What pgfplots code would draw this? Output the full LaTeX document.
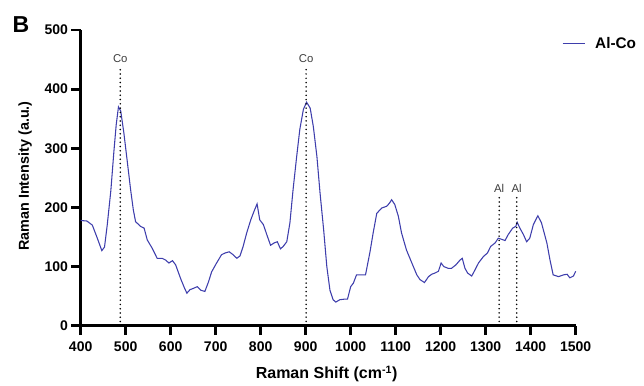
\documentclass[border=0pt]{standalone}
\usepackage{pgfplots}
\pgfplotsset{compat=1.18}
\usepackage{fontspec}
\setmainfont{Liberation Sans}
\definecolor{lc}{RGB}{62,62,172}
\definecolor{annot}{RGB}{60,60,60}
\begin{document}
\begin{tikzpicture}[x=1pt,y=1pt]
\useasboundingbox (-60.5,-44.5) rectangle (422.5,244.3);
\begin{axis}[
  at={(0,0)}, anchor=south west,
  scale only axis, width=371.25pt, height=221.8pt,
  xmin=400, xmax=1500, ymin=0, ymax=500,
  axis lines=left, axis line style={line width=2.1pt, -},
  xtick={400,500,...,1500}, ytick={0,100,...,500},
  tick style={line width=2.1pt, black}, tick align=outside,
  major tick length=7pt,
  /pgf/number format/assume math mode=true,
  /pgf/number format/set thousands separator={},
  tick label style={font=\bfseries\fontsize{10.5}{12}\selectfont},
  xticklabel style={yshift=-1.5pt},
  yticklabel style={xshift=1pt},
  xlabel={Raman Shift (cm\textsuperscript{-1})},
  ylabel={Raman Intensity (a.u.)},
  xlabel style={font=\bfseries\fontsize{12}{14}\selectfont, at={(axis description cs:0.497,-0.163)}, anchor=center},
  ylabel style={font=\bfseries\fontsize{10.8}{13}\selectfont, at={(axis description cs:-0.112,0.506)}, anchor=center},
  clip=false,
  legend style={draw=none, fill=none, at={(0.972,0.953)}, anchor=west,
    font=\bfseries\fontsize{11.5}{13}\selectfont, inner sep=0pt, column sep=5pt},
  legend cell align=left,
]
\addplot[color=lc, line width=0.8pt] coordinates {
(400,178)(414,177)(426,170)(437,148)(447,127)(453,133)(459,170)(467,228)
(474,296)(479,340)(484,370)(489,363)(496,326)(504,275)(511,230)(517,196)
(522,176)(533,168)(541,165)(548,145)(559,131)(570,114)(581,114)(589,111)
(596,106)(604,110)(611,103)(622,80)(630,65)(636,55)(643,61)(650,63)
(659,66)(667,60)(676,58)(684,74)(691,91)(702,106)(713,120)(721,123)
(730,125)(739,120)(747,114)(754,118)(761,134)(769,157)(778,179)(785,193)
(792,206)(798,179)(806,171)(815,151)(822,136)(830,140)(837,142)(844,130)
(850,134)(858,142)(865,174)(872,230)(880,286)(887,332)(895,366)(902,378)
(910,368)(917,337)(925,286)(932,224)(940,162)(947,100)(954,60)(961,44)
(967,40)(976,44)(987,45)(993,45)(1000,66)(1006,72)(1013,86)(1024,86)
(1033,86)(1043,125)(1050,157)(1058,190)(1069,199)(1080,202)(1086,207)(1091,213)
(1098,205)(1106,185)(1113,157)(1124,128)(1136,106)(1147,86)(1154,78)(1164,73)
(1173,83)(1180,87)(1187,89)(1195,92)(1201,106)(1207,100)(1217,97)(1224,97)
(1234,103)(1243,111)(1248,114)(1254,97)(1260,89)(1269,84)(1276,94)(1284,106)
(1295,117)(1304,123)(1311,134)(1321,140)(1328,148)(1336,146)(1343,144)(1350,154)
(1360,165)(1367,168)(1370,175)(1376,165)(1384,154)(1391,142)(1398,148)(1406,171)
(1416,186)(1424,174)(1436,140)(1443,111)(1450,86)(1462,83)(1473,86)(1481,87)
(1487,81)(1495,84)(1500,92)};
\addlegendentry{Al-Co}
\addplot[black, line width=1.3pt, line cap=round, dash pattern=on 0pt off 3.2pt, forget plot] coordinates {(488,0)(488,437)};
\addplot[black, line width=1.3pt, line cap=round, dash pattern=on 0pt off 3.2pt, forget plot] coordinates {(901,0)(901,437)};
\addplot[black, line width=1.3pt, line cap=round, dash pattern=on 0pt off 3.2pt, forget plot] coordinates {(1330,0)(1330,218)};
\addplot[black, line width=1.3pt, line cap=round, dash pattern=on 0pt off 3.2pt, forget plot] coordinates {(1369,0)(1369,218)};
\node[font=\fontsize{8.5}{10}\selectfont, text=annot] at (axis cs:488,451) {Co};
\node[font=\fontsize{8.5}{10}\selectfont, text=annot] at (axis cs:901,451) {Co};
\node[font=\fontsize{8.5}{10}\selectfont, text=annot] at (axis cs:1330,232) {Al};
\node[font=\fontsize{8.5}{10}\selectfont, text=annot] at (axis cs:1369,232) {Al};
\end{axis}
\node[font=\bfseries\fontsize{17.3}{20}\selectfont, anchor=base, inner sep=0pt] at (-44.8,220) {B};
\end{tikzpicture}
\end{document}
